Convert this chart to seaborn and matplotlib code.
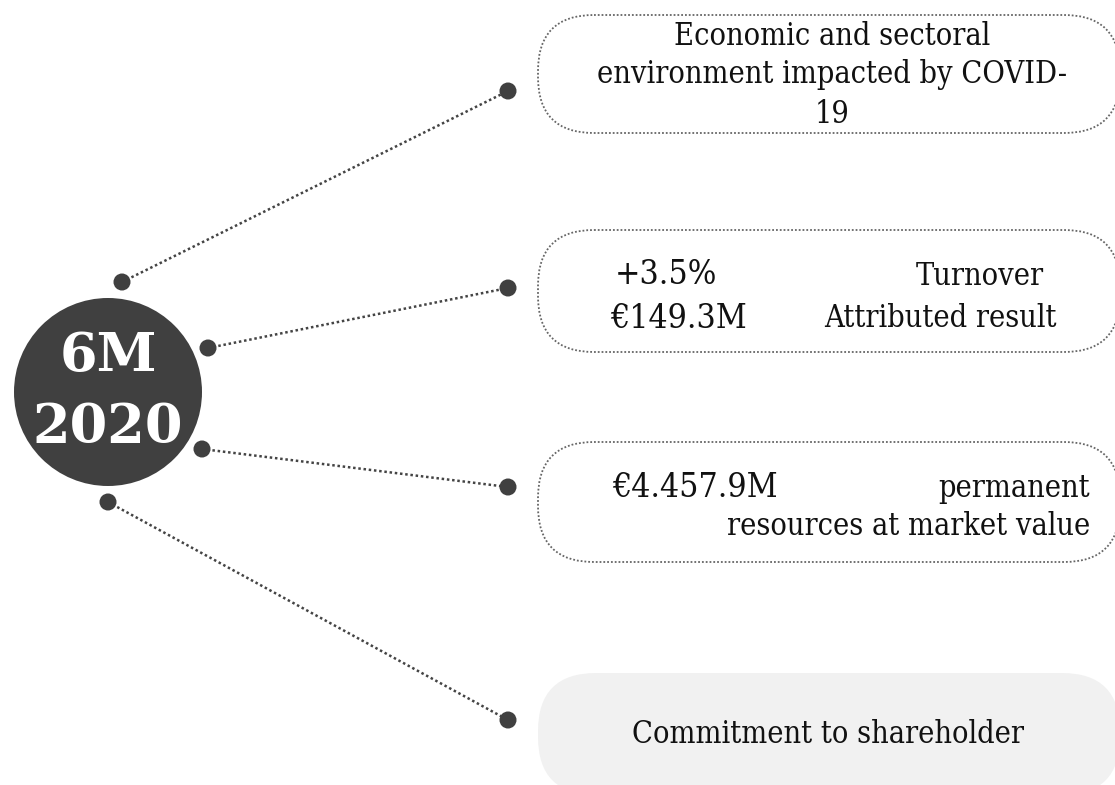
import matplotlib
matplotlib.use('Agg')
import matplotlib.pyplot as plt
from matplotlib import font_manager as fm
from matplotlib.patches import Circle, FancyBboxPatch
import seaborn as sns

sns.set_theme(style='white')
plt.rcParams['font.family'] = ['DejaVu Serif']

# ============================================================
# Content
# ============================================================
hub_lines = ['6M', '2020']
box1_lines = ['Economic and sectoral', 'environment impacted by COVID-', '19']
box2_values = ['+3.5%', '€149.3M']
box2_labels = ['Turnover', 'Attributed result']
box3_value = '€4.457.9M'
box3_lines = ['permanent', 'resources at market value']
box4_text = 'Commitment to shareholder'

# ============================================================
# Layout (pixel coordinates, y pointing down)
# ============================================================
W, H = 1115, 785
hub_x, hub_y, hub_r = 108, 392, 94
spoke_x0 = [122, 208, 202, 108]
spoke_y0 = [282, 348, 449, 502]
spoke_x1 = [508, 508, 508, 508]
spoke_y1 = [91, 288, 487, 720]
box_left = 538
box_width = 582
box_top = [15, 230, 442, 673]
box_height = [118, 122, 120, 122]

DARK = '#404040'
TXT = '#111111'

# narrower serif if the condensed DejaVu face is installed
cond_path = next((f.fname for f in fm.fontManager.ttflist
                  if f.fname.endswith('DejaVuSerifCondensed.ttf')), None)
if cond_path:
    base_prop = fm.FontProperties(fname=cond_path)
    scale = 1.1
else:
    base_prop = fm.FontProperties(family='DejaVu Serif')
    scale = 1.0


def box_text(x, y, s, size, ha='center'):
    prop = base_prop.copy()
    prop.set_size(size * scale)
    ax.text(x, y, s, ha=ha, va='baseline', fontproperties=prop, color=TXT, zorder=4)


fig = plt.figure(figsize=(W / 100, H / 100), dpi=100)
ax = fig.add_axes([0, 0, 1, 1])

# ============================================================
# Boxes
# ============================================================
for i, (top, h) in enumerate(zip(box_top, box_height)):
    if i < 3:
        patch = FancyBboxPatch((box_left, top), box_width, h,
                               boxstyle='round,pad=0,rounding_size=56',
                               facecolor='white', edgecolor='#666666',
                               linewidth=1.3, linestyle=(0, (1, 1.1)), zorder=1)
    else:
        patch = FancyBboxPatch((box_left, top), box_width, h,
                               boxstyle='round,pad=0,rounding_size=58',
                               facecolor='#f1f1f1', edgecolor='none', zorder=1)
    ax.add_patch(patch)

# ============================================================
# Spokes + dots
# ============================================================
for x0, y0, x1, y1 in zip(spoke_x0, spoke_y0, spoke_x1, spoke_y1):
    sns.lineplot(x=[x0, x1], y=[y0, y1], sort=False, ax=ax, color='#444444',
                 linewidth=1.8, linestyle=(0, (1, 1.1)), zorder=2)

sns.scatterplot(x=spoke_x0 + spoke_x1, y=spoke_y0 + spoke_y1, ax=ax,
                s=150, color=DARK, edgecolor='none', zorder=3)

ax.add_patch(Circle((hub_x, hub_y), hub_r, facecolor=DARK, edgecolor='none', zorder=3))
ax.text(hub_x, 372, hub_lines[0], ha='center', va='baseline', fontsize=39,
        fontweight='bold', color='white', zorder=4)
ax.text(hub_x, 443, hub_lines[1], ha='center', va='baseline', fontsize=39,
        fontweight='bold', color='white', zorder=4)

# ============================================================
# Box texts
# ============================================================
for line, base in zip(box1_lines, [45, 83, 123]):
    box_text(832, base, line, 20)

box_text(666, 284, box2_values[0], 22)
box_text(679, 328, box2_values[1], 22)
box_text(980, 285, box2_labels[0], 20)
box_text(940, 327, box2_labels[1], 20)

box_text(695, 497, box3_value, 22)
box_text(1090, 497, box3_lines[0], 20, ha='right')
box_text(1090, 535, box3_lines[1], 20, ha='right')

box_text(828, 743, box4_text, 20)

ax.set_xlim(0, W)
ax.set_ylim(H, 0)
ax.axis('off')

fig.savefig('out.png', dpi=100)
